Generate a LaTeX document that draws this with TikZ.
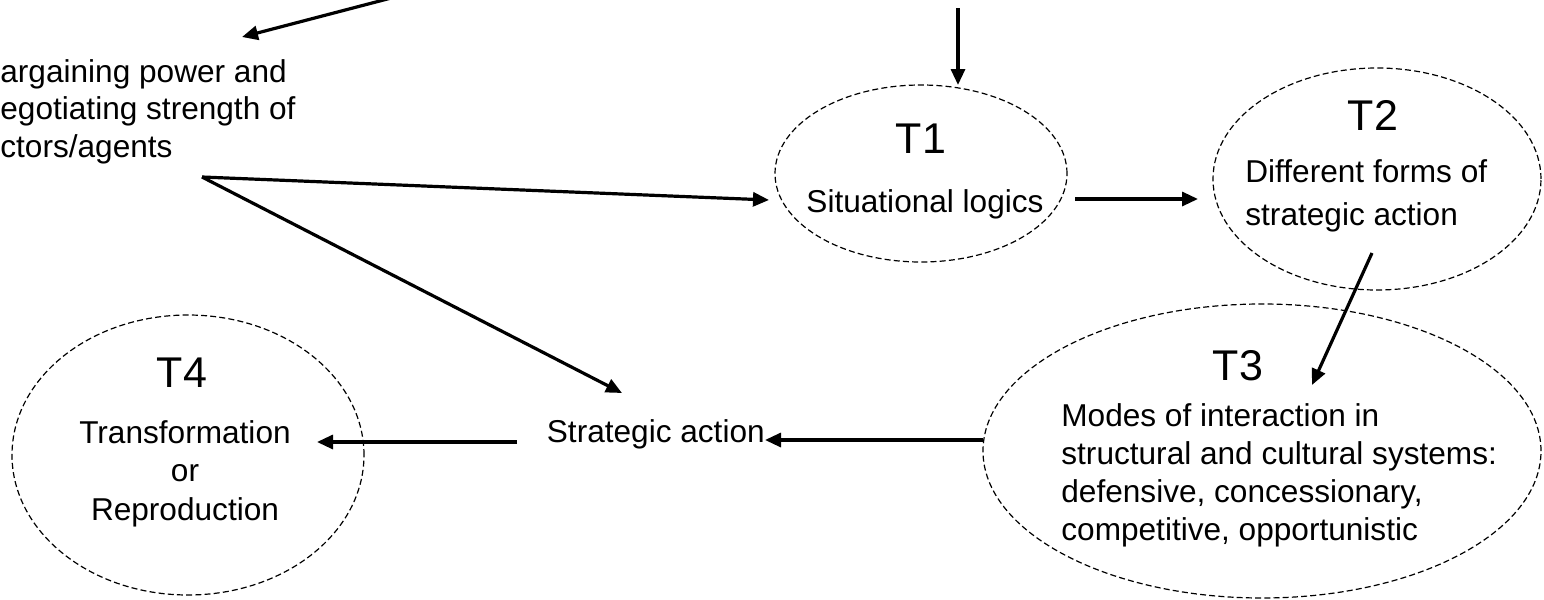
\documentclass[tikz,border=0pt]{standalone}
\usepackage{fontspec}
\setmainfont{Liberation Sans}
\usetikzlibrary{shapes.geometric,arrows.meta}
\tikzset{
  phase/.style={ellipse, draw, dash pattern=on 3pt off 1.6pt, line width=0.6pt, inner sep=0pt},
  tlabel/.style={font=\fontsize{21.5pt}{26pt}\selectfont, inner sep=0pt, anchor=base},
  body/.style={font=\fontsize{15.8pt}{19pt}\selectfont, inner sep=0pt},
  link/.style={line width=1.6pt, -{Triangle[length=8pt,width=7pt]}},
}
\begin{document}
\begin{tikzpicture}[x=0.5pt,y=-0.5pt]
\useasboundingbox (0,0) rectangle (1544,600);
\clip (0,0) rectangle (1544,600);

% the four phases
\node[phase, minimum width=146pt, minimum height=88.5pt] (T1) at (921,173.5) {};
\node[phase, minimum width=164pt, minimum height=111pt] (T2) at (1377,179) {};
\node[phase, minimum width=279pt, minimum height=147pt] (T3) at (1262,451) {};
\node[phase, minimum width=176pt, minimum height=140pt] (T4) at (188,455) {};

% phase titles
\node[tlabel] (t1) at (921,153) {T1};
\node[tlabel] (t2) at (1373,130) {T2};
\node[tlabel] (t3) at (1238,380) {T3};
\node[tlabel] (t4) at (182,387) {T4};

% phase contents (multi-line nodes are placed by the baseline of their last line)
\node[body, anchor=base] (s1) at (925,212) {Situational logics};
\node[body, anchor=base west, align=left, font=\fontsize{15.8pt}{21.5pt}\selectfont] (s2) at (1245,225)
  {Different forms of\\strategic action};
\node[body, anchor=base west, align=left] (s3) at (1061,540)
  {Modes of interaction in\\structural and cultural systems:\\defensive, concessionary,\\competitive, opportunistic};
\node[body, anchor=base, align=center, font=\fontsize{15.8pt}{19.25pt}\selectfont] (s4) at (185,520)
  {Transformation\\or\\Reproduction};

% free-standing texts
\node[body, anchor=base west, align=left, font=\fontsize{15.8pt}{18.75pt}\selectfont] (bp) at (0,157)
  {argaining power and\\egotiating strength of\\ctors/agents};
\node[body, anchor=base west] (sa) at (546.5,442) {Strategic action};

% connector ends
\coordinate (inA) at (395,-3);
\coordinate (bpIn) at (242,37);
\coordinate (inB) at (958,8);
\coordinate (T1top) at (958,85);
\coordinate (bpOut) at (202,177);
\coordinate (T1in) at (769,200);
\coordinate (saIn) at (622,393);
\coordinate (T1out) at (1075,199);
\coordinate (T2in) at (1198,199);
\coordinate (T2out) at (1372,253);
\coordinate (T3in) at (1312,385);
\coordinate (T3out) at (983,440);
\coordinate (saR) at (765,440);
\coordinate (saL) at (517,442);
\coordinate (T4in) at (317,442);

% connectors
\draw[link] (inA) -- (bpIn);
\draw[link] (inB) -- (T1top);
\draw[link] (bpOut) -- (T1in);
\draw[link] (bpOut) -- (saIn);
\draw[link] (T1out) -- (T2in);
\draw[link] (T2out) -- (T3in);
\draw[link] (T3out) -- (saR);
\draw[link] (saL) -- (T4in);
\end{tikzpicture}
\end{document}
